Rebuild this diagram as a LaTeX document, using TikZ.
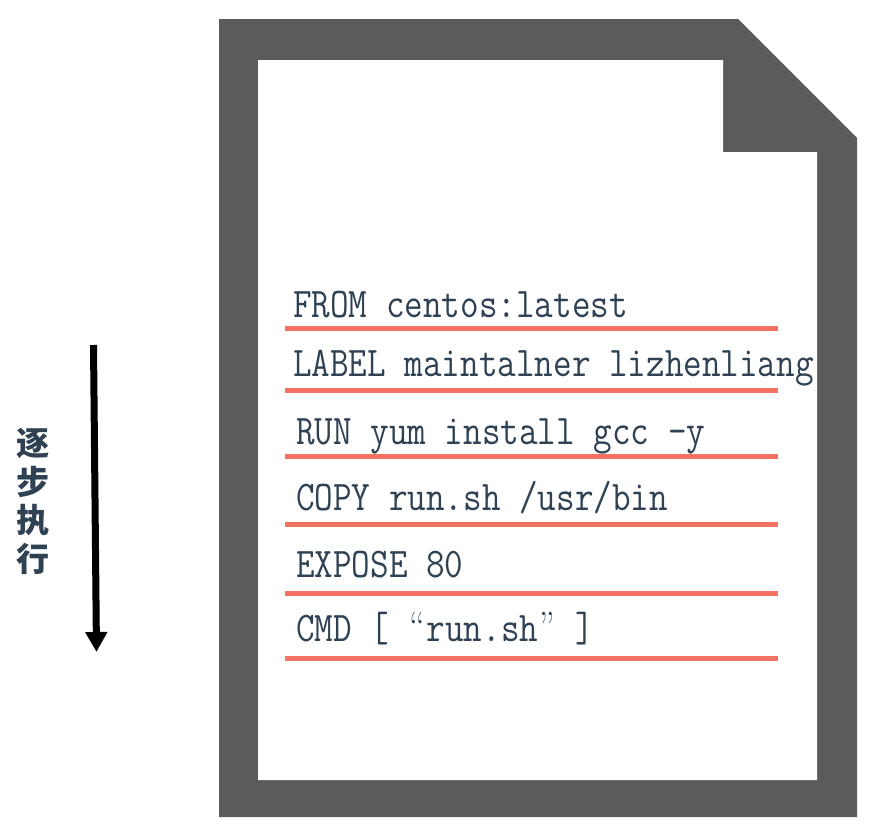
\documentclass[tikz,border=0pt]{standalone}
\usepackage{fontspec}
\newfontfamily\cjk{Noto Sans CJK SC}
\usetikzlibrary{arrows.meta}
\definecolor{docgray}{HTML}{5A5C5B}
\definecolor{redline}{HTML}{F37261}
\definecolor{inkblue}{HTML}{2F4254}
\tikzset{
  codetext/.style={anchor=base west,inner sep=0pt,text=inkblue,font=\fontsize{36.1}{37}\selectfont\ttfamily},
  ruleline/.style={draw=redline,line width=5pt},
  flowarrow/.style={draw=black,line width=7pt,-{Triangle[length=20pt,width=21pt]}},
  sidetext/.style={inner sep=0pt,align=center,text=inkblue,font=\fontsize{33}{38.5}\selectfont\cjk\bfseries}
}
\newcommand{\codeline}[1]{\scalebox{1}[1.17]{#1}}
\newcommand{\wq}[1]{\makebox[18.95pt]{\rmfamily #1}}
\begin{document}
\begin{tikzpicture}[x=1pt,y=-1pt]
\useasboundingbox (0,0) rectangle (875,838);
\fill[docgray] (219,19) -- (738,19) -- (857,138) -- (857,817) -- (219,817) -- cycle;
\fill[white] (258,60) -- (723,60) -- (723,152) -- (817,152) -- (817,780) -- (258,780) -- cycle;

\foreach \n/\y in {a/328,b/390,c/456,d/524,e/593,f/658}{
  \coordinate (\n L) at (285,\y);
  \coordinate (\n R) at (778,\y);
  \draw[ruleline] (\n L) -- (\n R);
}

\node[codetext] (from) at (293,317) {\codeline{FROM centos:latest}};
\node[codetext] (label) at (293,376) {\codeline{LABEL maintalner lizhenliang}};
\node[codetext] (run) at (296,444) {\codeline{RUN yum install gcc -y}};
\node[codetext] (copy) at (296,510) {\codeline{COPY run.sh /usr/bin}};
\node[codetext] (expose) at (296,577) {\codeline{EXPOSE 80}};
\node[codetext] (cmd) at (296,641) {\codeline{CMD [ \wq{“}run.sh\wq{”} ]}};

\coordinate (arrowstart) at (93.5,345);
\coordinate (arrowend) at (96.5,652);
\draw[flowarrow] (arrowstart) -- (arrowend);
\node[sidetext] (side) at (33,501.5) {逐\\步\\执\\行};
\end{tikzpicture}
\end{document}
